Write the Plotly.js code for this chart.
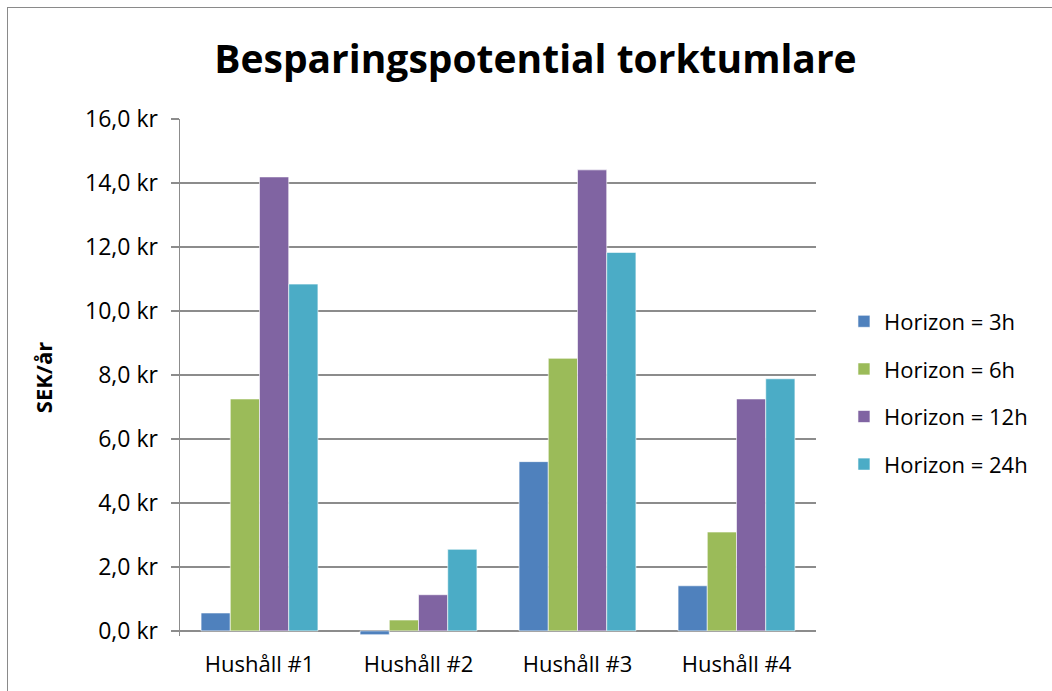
<!DOCTYPE html>
<html>
<head>
<meta charset="utf-8">
<script src="https://cdn.plot.ly/plotly-3.0.1.min.js"></script>
<style>
html,body{margin:0;padding:0;overflow:hidden;background:#fff;}
#chart{width:1052px;height:691px;}
#frame{position:absolute;left:7px;top:7px;width:1200px;height:900px;border:1.5px solid #8a8a8a;pointer-events:none;}
</style>
</head>
<body>
<div id="chart"></div>
<div id="frame"></div>
<script>
var categories = ["Hushåll #1", "Hushåll #2", "Hushåll #3", "Hushåll #4"];
var seriesNames = ["Horizon = 3h", "Horizon = 6h", "Horizon = 12h", "Horizon = 24h"];
var h3  = [0.56, -0.12, 5.29, 1.41];
var h6  = [7.25, 0.34, 8.52, 3.09];
var h12 = [14.19, 1.13, 14.41, 7.25];
var h24 = [10.84, 2.55, 11.83, 7.88];
var colors = ["#4f81bd", "#9bbb59", "#8064a2", "#4bacc6"];
var yTicks = [0, 2, 4, 6, 8, 10, 12, 14, 16];
var yTickLabels = ["0,0 kr", "2,0 kr", "4,0 kr", "6,0 kr", "8,0 kr", "10,0 kr", "12,0 kr", "14,0 kr", "16,0 kr"];

var FONT = "'Open Sans', sans-serif";
var allSeries = [h3, h6, h12, h24];
var traces = allSeries.map(function(vals, i){
  return {
    type: "bar",
    name: seriesNames[i],
    x: categories,
    y: vals,
    marker: {color: colors[i], line: {color: "rgba(255,255,255,0.6)", width: 1}},
    legendgroup: "g" + i
  };
});

var layout = {
  width: 1052, height: 691,
  paper_bgcolor: "#ffffff", plot_bgcolor: "#ffffff",
  margin: {l: 180, r: 236, t: 119, b: 55},
  barmode: "group",
  bargap: 0.265,
  bargroupgap: 0,
  font: {family: FONT, color: "#000", size: 22},
  title: {
    text: "<b>Besparingspotential torktumlare</b>",
    font: {family: FONT, size: 39, color: "#000"},
    x: 0.509, xref: "container", xanchor: "center",
    y: 60, yref: "container", yanchor: "middle"
  },
  xaxis: {
    type: "category",
    showgrid: false,
    showline: false,
    ticks: "",
    ticklabelstandoff: 13,
    tickfont: {family: FONT, size: 22, color: "#000"},
    zeroline: false
  },
  yaxis: {
    range: [-0.16, 16],
    tickmode: "array",
    tickvals: yTicks,
    ticktext: yTickLabels,
    showgrid: true,
    gridcolor: "#8c8c8c",
    gridwidth: 1.5,
    showline: true,
    linecolor: "#8c8c8c",
    linewidth: 1.5,
    ticks: "outside",
    ticklen: 8,
    tickcolor: "#8c8c8c",
    tickwidth: 1.5,
    ticklabelstandoff: 8,
    zeroline: true,
    zerolinecolor: "#8c8c8c",
    zerolinewidth: 2,
    tickfont: {family: FONT, size: 23, color: "#000"},
    title: {text: "<b>SEK/år</b>", font: {family: FONT, size: 22, color: "#000"}, standoff: 26}
  },
  legend: {
    x: 1.044, xanchor: "left",
    y: 0.47, yanchor: "middle",
    font: {family: FONT, size: 22, color: "#000"},
    traceorder: "grouped",
    tracegroupgap: 16,
    itemwidth: 30
  }
};

Plotly.newPlot("chart", traces, layout, {displayModeBar: false, staticPlot: true});
</script>
</body>
</html>
